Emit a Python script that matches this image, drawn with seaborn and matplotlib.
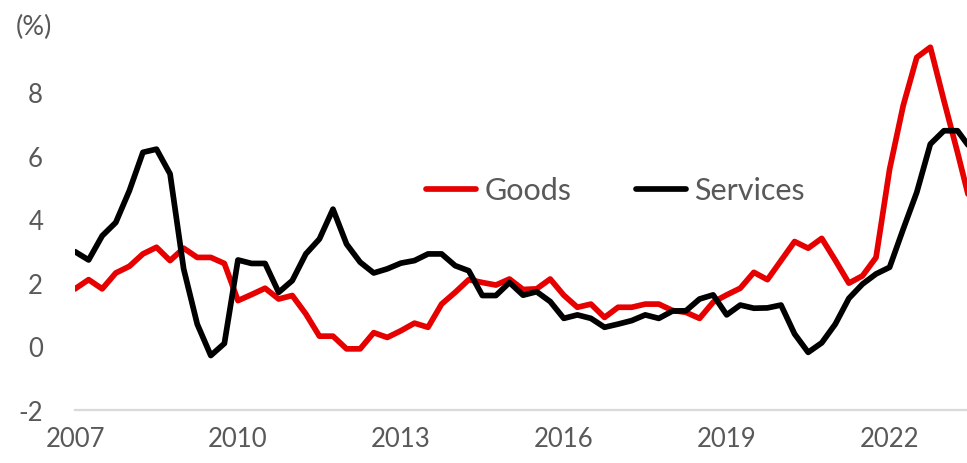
import numpy as np
import pandas as pd
import seaborn as sns
import matplotlib.pyplot as plt

# quarterly year-on-year inflation, 2007Q1 .. 2023Q3
goods = [1.8, 2.09, 1.8, 2.3, 2.51, 2.9, 3.11, 2.69, 3.08, 2.79, 2.79, 2.6,
         1.43, 1.62, 1.82, 1.48, 1.59, 1.01, 0.31, 0.31, -0.09, -0.09, 0.42, 0.27,
         0.48, 0.72, 0.59, 1.32, 1.69, 2.09, 2.0, 1.92, 2.11, 1.78, 1.8, 2.11,
         1.6, 1.22, 1.32, 0.9, 1.22, 1.22, 1.32, 1.32, 1.12, 1.06, 0.87, 1.38,
         1.61, 1.82, 2.32, 2.09, 2.69, 3.29, 3.08, 3.39, 2.7, 1.98, 2.21, 2.79,
         5.57, 7.57, 9.09, 9.41, 7.73, 6.1, 4.4]
services = [2.97, 2.71, 3.47, 3.89, 4.89, 6.1, 6.2, 5.42, 2.43, 0.69, -0.3, 0.08,
            2.71, 2.6, 2.6, 1.69, 2.06, 2.9, 3.37, 4.31, 3.21, 2.64, 2.3, 2.43,
            2.61, 2.69, 2.9, 2.9, 2.53, 2.37, 1.59, 1.59, 2.0, 1.6, 1.71, 1.4,
            0.87, 0.98, 0.87, 0.59, 0.69, 0.8, 0.98, 0.87, 1.1, 1.11, 1.48, 1.61,
            0.98, 1.29, 1.19, 1.2, 1.29, 0.38, -0.2, 0.1, 0.69, 1.5, 1.95, 2.27,
            2.48, 3.68, 4.84, 6.36, 6.78, 6.78, 6.2]
quarters = pd.period_range('2007Q1', periods=len(goods), freq='Q')
tick_years = ['2007', '2010', '2013', '2016', '2019', '2022']
y_ticks = [-2, 0, 2, 4, 6, 8]

idx = np.arange(len(quarters))
df = pd.DataFrame({'t': np.concatenate([idx, idx]),
                   'value': goods + services,
                   'series': ['Goods'] * len(goods) + ['Services'] * len(services)})

sns.set_style('white')
plt.rcParams['font.family'] = ['Lato', 'DejaVu Sans']
text_col = '#595959'

fig = plt.figure(figsize=(9.67, 4.64), dpi=100)
ax = fig.add_axes([0.0776, 0.1153, 0.9224, 0.8211])
sns.lineplot(data=df, x='t', y='value', hue='series',
             palette={'Goods': '#E60000', 'Services': '#000000'},
             linewidth=4.1, ax=ax)

ax.set_xlim(0, 65.7)
ax.set_ylim(-2, 10)
tick_pos = [list(quarters.year).index(int(y)) for y in tick_years]
ax.set_xticks(tick_pos)
ax.set_xticklabels(tick_years)
ax.set_yticks(y_ticks)
ax.set_yticklabels([str(v) for v in y_ticks])
ax.set_xlabel('')
ax.set_ylabel('')
ax.tick_params(axis='x', length=0, pad=12, labelsize=18.5, colors=text_col)
ax.tick_params(axis='y', length=0, pad=23, labelsize=18.5, colors=text_col)
for s in ['top', 'right', 'left']:
    ax.spines[s].set_visible(False)
ax.spines['bottom'].set_color('#D9D9D9')
ax.spines['bottom'].set_linewidth(1.6)

leg = ax.legend(loc='center left', bbox_to_anchor=(0.363, 0.575), ncol=2,
                frameon=False, fontsize=22, handlelength=1.64,
                handletextpad=0.26, columnspacing=2.1)
for t in leg.get_texts():
    t.set_color(text_col)

fig.text(34 / 967, 1 - 27 / 464, '(%)', ha='center', va='center',
         fontsize=19.5, color=text_col)

fig.savefig('out.png', dpi=100)
